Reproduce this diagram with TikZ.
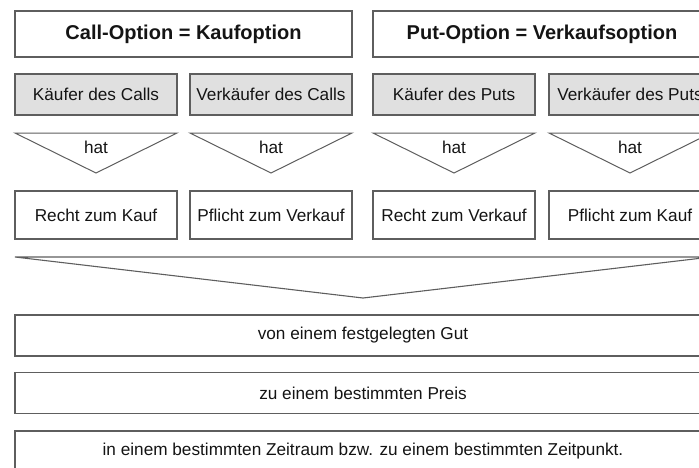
\documentclass[tikz,border=0pt]{standalone}
\usepackage{fontspec}
\setmainfont{Liberation Sans}
\definecolor{linegray}{HTML}{5E5E5E}
\definecolor{boxfill}{HTML}{E0E0E0}
\definecolor{txt}{HTML}{141414}
\begin{document}
\begin{tikzpicture}[x=1pt,y=-1pt,
  box/.style={draw=linegray, line width=1.1pt, inner sep=0pt, text=txt,
    font=\fontsize{17.2}{20}\selectfont, minimum width=162pt},
  titlebox/.style={box, font=\bfseries\fontsize{20}{24}\selectfont, minimum height=46pt},
  rolebox/.style={box, fill=boxfill, minimum height=41pt},
  rightbox/.style={box, minimum height=48pt},
  widebox/.style={box, minimum width=696pt, minimum height=41pt},
  tri/.style={draw=linegray, line width=1pt, line join=miter},
  hattext/.style={text=txt, font=\fontsize{17.2}{20}\selectfont, inner sep=0pt}]
\useasboundingbox (0,0) rectangle (699,467);
\clip (0,0) rectangle (699,467);
% title row
\node[titlebox, minimum width=337pt] (call) at (183.5,34) {Call-Option = Kaufoption};
\node[titlebox, minimum width=338pt] (put) at (542,34) {Put-Option = Verkaufsoption};
% role row
\node[rolebox] (r1) at (96,94.5) {Käufer des Calls};
\node[rolebox] (r2) at (271,94.5) {Verkäufer des Calls};
\node[rolebox] (r3) at (454,94.5) {Käufer des Puts};
\node[rolebox] (r4) at (630,94.5) {Verkäufer des Puts};
% triangles "hat"
\foreach \c/\n in {96/1,271/2,454/3,630/4}{
  \coordinate (tl\n) at (\c-81,133);
  \coordinate (tr\n) at (\c+81,133);
  \coordinate (ta\n) at (\c,173);
  \draw[tri] (tl\n) -- (tr\n) -- (ta\n) -- cycle;
  \node[hattext] (h\n) at (\c,147) {hat};
}
% rights / obligations
\node[rightbox] (p1) at (96,215) {Recht zum Kauf};
\node[rightbox] (p2) at (271,215) {Pflicht zum Verkauf};
\node[rightbox] (p3) at (454,215) {Recht zum Verkauf};
\node[rightbox] (p4) at (630,215) {Pflicht zum Kauf};
% funnel
\coordinate (fl) at (15,257);
\coordinate (fr) at (711,257);
\coordinate (fa) at (363,298);
\draw[tri, line width=1.1pt] (fl) -- (fr) -- (fa) -- cycle;
% bottom boxes
\node[widebox] (b1) at (363,335.5) {von einem festgelegten Gut};
\node[widebox] (b2) at (363,393) {zu einem bestimmten Preis};
\node[widebox] (b3) at (363,451.5) {in einem bestimmten Zeitraum bzw. zu einem bestimmten Zeitpunkt.};
\end{tikzpicture}
\end{document}
